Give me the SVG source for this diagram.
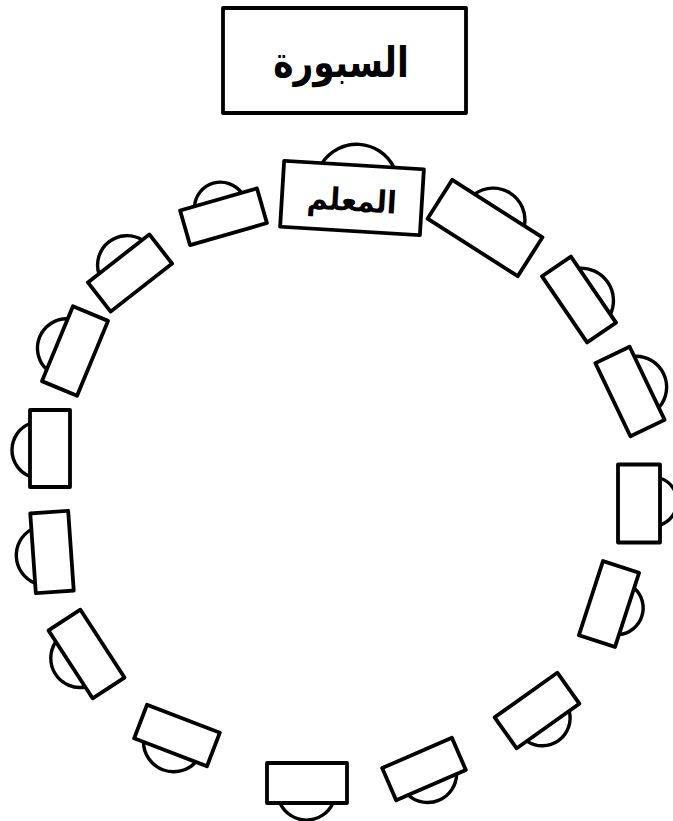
<svg xmlns="http://www.w3.org/2000/svg" width="673" height="821" viewBox="0 0 673 821">
<style>
.desk{fill:#fff;stroke:#000;stroke-width:3.8;stroke-linejoin:round}
.chair{fill:none;stroke:#000;stroke-width:3.4;stroke-linecap:round}
.lbl{font-family:"DejaVu Sans",sans-serif;font-weight:bold;text-anchor:middle;fill:#000}
</style>
<rect width="673" height="821" fill="#fff"/>
<g id="board">
<rect class="desk" x="223" y="8" width="243" height="105"/>
<text class="lbl" transform="translate(341,77) scale(0.82,1)" x="0" y="0" font-size="42">السبورة</text>
</g>
<g id="teacher" transform="translate(352,198) rotate(3.5)">
<path class="chair" d="M-32,-33 A41.4,41.4 0 0 1 40,-33"/>
<rect class="desk" x="-70" y="-33" width="140" height="66"/>
<text class="lbl" transform="translate(0,13) scale(0.92,1)" x="0" y="0" font-size="31">المعلم</text>
</g>
<g id="desk-a" transform="translate(223.5,216.75) rotate(-16)">
<path class="chair" d="M-25,-18 A26.1,26.1 0 0 1 24,-18"/>
<rect class="desk" x="-40" y="-18" width="80" height="36"/>
</g>
<g id="desk-b" transform="translate(130,273) rotate(-38)">
<path class="chair" d="M-25,-18.5 A29.4,29.4 0 0 1 30,-18.5"/>
<rect class="desk" x="-39" y="-18.5" width="78" height="37"/>
</g>
<g id="desk-c" transform="translate(75,351) rotate(-67.5)">
<path class="chair" d="M-28,-19 A29.4,29.4 0 0 1 27,-19"/>
<rect class="desk" x="-40.5" y="-19" width="81" height="38"/>
</g>
<g id="desk-d" transform="translate(50,448.5) rotate(-90)">
<path class="chair" d="M-28,-20 A28.5,28.5 0 0 1 25,-20"/>
<rect class="desk" x="-38.5" y="-20" width="77" height="40"/>
</g>
<g id="desk-e" transform="translate(52,552) rotate(-94)">
<path class="chair" d="M-30,-19 A30,30 0 0 1 24,-19"/>
<rect class="desk" x="-40" y="-19" width="80" height="38"/>
</g>
<g id="desk-f" transform="translate(86.5,654) rotate(-123)">
<path class="chair" d="M-27,-19 A29.25,29.25 0 0 1 27,-19"/>
<rect class="desk" x="-40.5" y="-19" width="81" height="38"/>
</g>
<g id="desk-g" transform="translate(177,735.5) rotate(-159)">
<path class="chair" d="M-27,-18 A30.1,30.1 0 0 1 29,-18"/>
<rect class="desk" x="-39" y="-18" width="78" height="36"/>
</g>
<g id="desk-h" transform="translate(307,783) rotate(180)">
<path class="chair" d="M-26,-20 A29.1,29.1 0 0 1 27,-20"/>
<rect class="desk" x="-40" y="-20" width="80" height="40"/>
</g>
<g id="desk-i" transform="translate(424,769) rotate(156.5)">
<path class="chair" d="M-28,-17.5 A29.1,29.1 0 0 1 25,-17.5"/>
<rect class="desk" x="-38" y="-17.5" width="76" height="35"/>
</g>
<g id="desk-j" transform="translate(537,710.5) rotate(144.5)">
<path class="chair" d="M-26,-19 A27.8,27.8 0 0 1 26,-19"/>
<rect class="desk" x="-38.5" y="-19" width="77" height="38"/>
</g>
<g id="desk-k" transform="translate(609,604) rotate(108)">
<path class="chair" d="M-23,-19 A26.75,26.75 0 0 1 26,-19"/>
<rect class="desk" x="-39" y="-19" width="78" height="38"/>
</g>
<g id="desk-l" transform="translate(639,503.5) rotate(90)">
<path class="chair" d="M-25.5,-21 A24.7,24.7 0 0 1 21.5,-21"/>
<rect class="desk" x="-39" y="-21" width="78" height="42"/>
</g>
<g id="desk-o" transform="translate(630,391.5) rotate(64.4)">
<path class="chair" d="M-30,-19 A30.9,30.9 0 0 1 27,-19"/>
<rect class="desk" x="-40.5" y="-19" width="81" height="38"/>
</g>
<g id="desk-n" transform="translate(579,299.5) rotate(55.7)">
<path class="chair" d="M-26,-17.5 A32.5,32.5 0 0 1 30,-17.5"/>
<rect class="desk" x="-40" y="-17.5" width="80" height="35"/>
</g>
<g id="desk-m" transform="translate(485,228) rotate(32.5)">
<path class="chair" d="M-27,-23 A31.75,31.75 0 0 1 32,-23"/>
<rect class="desk" x="-53.5" y="-23" width="107" height="46"/>
</g>
<g id="connectors"></g>
</svg>
